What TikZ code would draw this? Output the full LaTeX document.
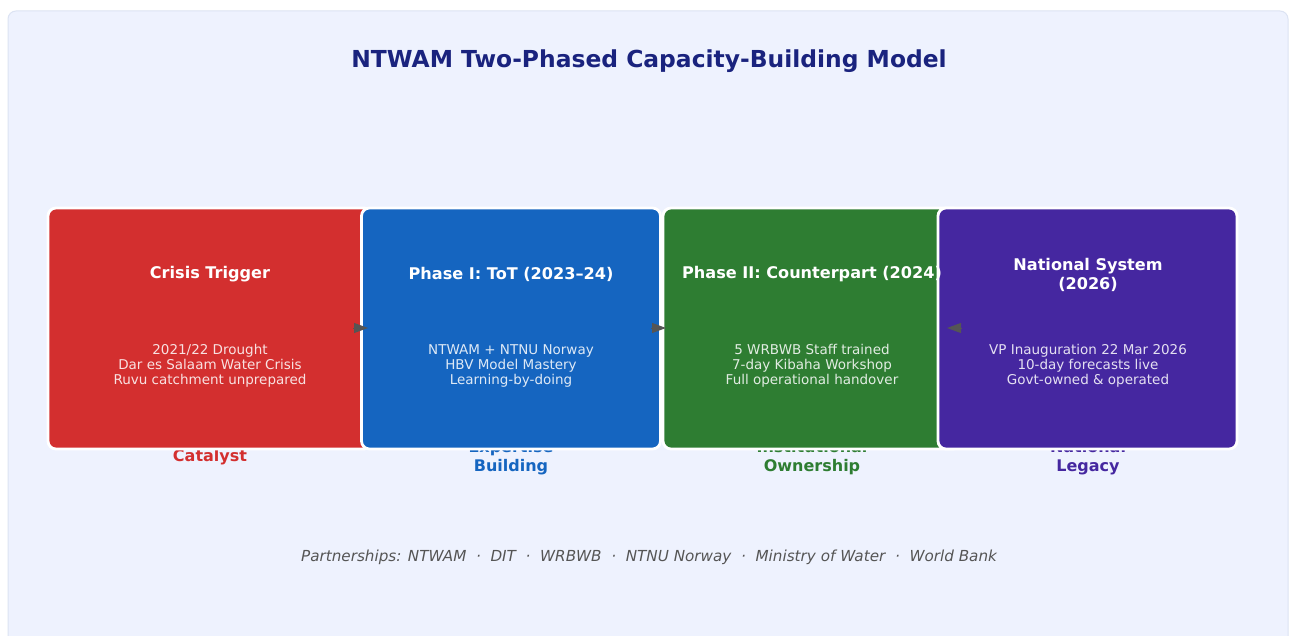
\documentclass[tikz,border=0pt]{standalone}
\usepackage{fontspec}
\setmainfont{DejaVu Sans}
\usetikzlibrary{arrows.meta}

\definecolor{crisisred}{HTML}{D32F2F}
\definecolor{phaseblue}{HTML}{1565C0}
\definecolor{phasegreen}{HTML}{2E7D32}
\definecolor{legacypurple}{HTML}{4527A0}
\definecolor{titlenavy}{HTML}{1A237E}
\definecolor{panelfill}{HTML}{EEF2FE}
\definecolor{panelline}{HTML}{DCE3F3}
\definecolor{footgray}{HTML}{555555}
\definecolor{arrowgray}{HTML}{555555}

\tikzset{
  panel/.style={fill=panelfill, draw=panelline, line width=1pt, rounded corners=8pt},
  stage/.style={rectangle, rounded corners=8pt, draw=white, line width=2.8pt,
    minimum height=241pt, inner sep=0pt},
  stagetitle/.style={text=white, align=center, inner sep=0pt,
    font=\fontsize{16.1}{19}\selectfont\bfseries},
  stagebody/.style={text=white, text opacity=0.86, align=center, inner sep=0pt,
    font=\fontsize{13.5}{15}\selectfont},
  role/.style={align=center, inner sep=0pt, font=\fontsize{16}{19.5}\selectfont\bfseries},
  flow/.style={draw=arrowgray, line width=1pt,
    -{Triangle[length=14pt,width=10pt,fill=arrowgray]}},
}

\begin{document}
\begin{tikzpicture}[x=1pt,y=-1pt]
\useasboundingbox (0,0) rectangle (1289,636);
\fill[white] (0,0) rectangle (1289,636);
\draw[panel] (8,11) rectangle (1288,690);

% heading
\node[text=titlenavy, inner sep=0pt, font=\fontsize{23.4}{28}\selectfont\bfseries]
  (heading) at (649,61) {NTWAM Two-Phased Capacity-Building Model};

% role captions under each stage (partly covered by the stage boxes)
\node[role, text=crisisred] (roleA) at (210,457) {Catalyst};
\node[role, text=phaseblue] (roleB) at (511,457.5) {Expertise\\Building};
\node[role, text=phasegreen] (roleC) at (812,457.5) {Institutional\\Ownership};
\node[role, text=legacypurple] (roleD) at (1088,457.5) {National\\Legacy};

% stage boxes
\node[stage, fill=crisisred, minimum width=324pt] (crisis) at (210,328.5) {};
\node[stage, fill=phaseblue, minimum width=299pt] (phaseone) at (511,328.5) {};
\node[stage, fill=phasegreen, minimum width=298pt] (phasetwo) at (812,328.5) {};
\node[stage, fill=legacypurple, minimum width=299pt] (national) at (1087.5,328.5) {};

% stage texts
\node[stagetitle] (crisisT) at (210,274.5) {Crisis Trigger};
\node[stagebody] (crisisB) at (210,365.5) {2021/22 Drought\\Dar es Salaam Water Crisis\\Ruvu catchment unprepared};

\node[stagetitle] (phaseoneT) at (511,274.5) {Phase I: ToT (2023--24)};
\node[stagebody] (phaseoneB) at (511,365.5) {NTWAM + NTNU Norway\\HBV Model Mastery\\Learning-by-doing};

\node[stagetitle] (phasetwoT) at (812,274.5) {Phase II: Counterpart (2024)};
\node[stagebody] (phasetwoB) at (812,365.5) {5 WRBWB Staff trained\\7-day Kibaha Workshop\\Full operational handover};

\node[stagetitle] (nationalT) at (1088,275) {National System\\(2026)};
\node[stagebody] (nationalB) at (1088,365.5) {VP Inauguration 22 Mar 2026\\10-day forecasts live\\Govt-owned \& operated};

% connectors between stages
\coordinate (flowAs) at (353,328);
\coordinate (flowAe) at (368,328);
\coordinate (flowBs) at (651,328);
\coordinate (flowBe) at (666,328);
\coordinate (flowCs) at (962,328);
\coordinate (flowCe) at (947,328);
\draw[flow] (flowAs) -- (flowAe);
\draw[flow] (flowBs) -- (flowBe);
\draw[flow] (flowCs) -- (flowCe);

% partners line
\node[text=footgray, inner sep=0pt, font=\fontsize{15.2}{18}\selectfont\itshape]
  (partners) at (649,557) {Partnerships: NTWAM\ \ ·\ \ DIT\ \ ·\ \ WRBWB\ \ ·\ \ NTNU Norway\ \ ·\ \ Ministry of Water\ \ ·\ \ World Bank};
\end{tikzpicture}
\end{document}
